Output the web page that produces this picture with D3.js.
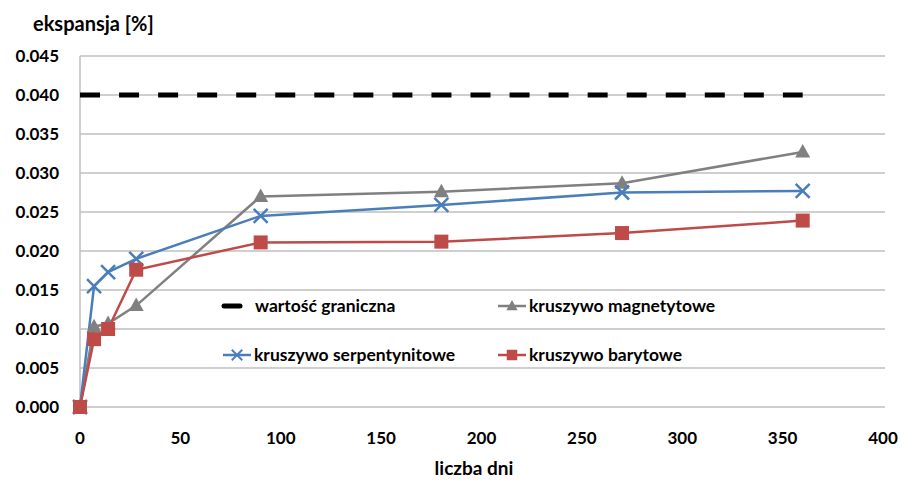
<!DOCTYPE html>
<html>
<head>
<meta charset="utf-8">
<script src="https://cdn.jsdelivr.net/npm/d3@7"></script>
<style>
  body { margin: 0; background: #fff; }
  text { font-family: Lato, "Open Sans", sans-serif; font-weight: bold; fill: #000; }
</style>
</head>
<body>
<script>
// data
var days = [0, 7, 14, 28, 90, 180, 270, 360];
var magnetytowe = [0, 0.0103, 0.0107, 0.0130, 0.0270, 0.0276, 0.0287, 0.0327];
var serpentynitowe = [0, 0.0155, 0.0173, 0.0190, 0.0245, 0.0259, 0.0275, 0.0277];
var barytowe = [0, 0.0087, 0.0100, 0.0176, 0.0211, 0.0212, 0.0223, 0.0239];
var limitDays = [0, 360];
var limitValue = 0.040;
var xTicks = [0, 50, 100, 150, 200, 250, 300, 350, 400];
var yTicks = [0, 0.005, 0.010, 0.015, 0.020, 0.025, 0.030, 0.035, 0.040, 0.045];

var W = 904, H = 481;
var margin = {top: 56, right: 21, bottom: 74, left: 80};

var svg = d3.select('body').append('svg')
  .attr('width', W)
  .attr('height', H);

var x = d3.scaleLinear().domain([0, 400]).range([margin.left, 883]);
var y = d3.scaleLinear().domain([0, 0.045]).range([407, margin.top]);

// gridlines
svg.append('g').selectAll('line')
  .data(yTicks)
  .enter().append('line')
    .attr('x1', margin.left).attr('x2', 885)
    .attr('y1', d => y(d)).attr('y2', d => y(d))
    .attr('stroke', '#bfbfbf')
    .attr('stroke-width', 1.5);

// left axis line
svg.append('line')
  .attr('x1', x(0)).attr('x2', x(0))
  .attr('y1', y(0.045)).attr('y2', y(0))
  .attr('stroke', '#bfbfbf')
  .attr('stroke-width', 1.5);

// tick labels
svg.append('g').selectAll('text')
  .data(yTicks)
  .enter().append('text')
    .attr('x', 59)
    .attr('y', d => y(d))
    .attr('dy', '0.35em')
    .attr('text-anchor', 'end')
    .style('font-size', '17px')
    .text(d => d3.format('.3f')(d));

svg.append('g').selectAll('text')
  .data(xTicks)
  .enter().append('text')
    .attr('x', d => x(d))
    .attr('y', 438)
    .attr('dy', '0.35em')
    .attr('text-anchor', 'middle')
    .style('font-size', '17px')
    .text(d => d);

// axis titles
svg.append('text')
  .attr('x', 33).attr('y', 31)
  .style('font-size', '20px')
  .text('ekspansja [%]');

svg.append('text')
  .attr('x', 474).attr('y', 475)
  .attr('text-anchor', 'middle')
  .style('font-size', '19px')
  .text('liczba dni');

// limit line
svg.append('line')
  .attr('x1', x(limitDays[0])).attr('x2', x(limitDays[1]))
  .attr('y1', y(limitValue)).attr('y2', y(limitValue))
  .attr('stroke', '#000')
  .attr('stroke-width', 5)
  .attr('stroke-dasharray', '20,19.05');

var line = d3.line()
  .x((d, i) => x(days[i]))
  .y(d => y(d));

var series = [
  {name: 'kruszywo magnetytowe', values: magnetytowe, color: '#808080', marker: 'tri'},
  {name: 'kruszywo serpentynitowe', values: serpentynitowe, color: '#4a7ebb', marker: 'x'},
  {name: 'kruszywo barytowe', values: barytowe, color: '#be4b48', marker: 'sq'}
];

function drawMarker(g, type, color) {
  if (type === 'tri') {
    g.append('path').attr('d', 'M0,-8L7.5,5.5L-7.5,5.5Z').attr('fill', color);
  } else if (type === 'sq') {
    g.append('rect').attr('x', -7).attr('y', -7).attr('width', 14).attr('height', 14).attr('fill', color);
  } else {
    g.append('path').attr('d', 'M-7,-7L7,7M-7,7L7,-7')
      .attr('stroke', color).attr('stroke-width', 2.5).attr('fill', 'none');
  }
}

series.forEach(function(s) {
  svg.append('path')
    .datum(s.values)
    .attr('d', line)
    .attr('fill', 'none')
    .attr('stroke', s.color)
    .attr('stroke-width', 2.5);
});

series.forEach(function(s) {
  svg.append('g').selectAll('g')
    .data(s.values)
    .enter().append('g')
      .attr('transform', (d, i) => 'translate(' + x(days[i]) + ',' + y(d) + ')')
      .each(function() { drawMarker(d3.select(this), s.marker, s.color); });
});

// legend
var legend = [
  {name: 'wartość graniczna', type: 'limit', x: 223, y: 306},
  {name: 'kruszywo magnetytowe', type: 'tri', color: '#808080', x: 498, y: 306},
  {name: 'kruszywo serpentynitowe', type: 'x', color: '#4a7ebb', x: 223, y: 355},
  {name: 'kruszywo barytowe', type: 'sq', color: '#be4b48', x: 498, y: 355}
];

legend.forEach(function(l) {
  var g = svg.append('g').attr('transform', 'translate(' + l.x + ',' + l.y + ')');
  if (l.type === 'limit') {
    g.append('line').attr('x1', 1).attr('x2', 17).attr('y1', 0).attr('y2', 0)
      .attr('stroke', '#000').attr('stroke-width', 5).attr('stroke-linecap', 'round');
    g.append('text').attr('x', 32).attr('dy', '0.35em').style('font-size', '17.5px').text(l.name);
  } else {
    g.append('line').attr('x1', 0).attr('x2', 28).attr('y1', 0).attr('y2', 0)
      .attr('stroke', l.color).attr('stroke-width', 2.5);
    var m = g.append('g').attr('transform', 'translate(14,0) scale(0.75)');
    drawMarker(m, l.type, l.color);
    g.append('text').attr('x', 31).attr('dy', '0.35em').style('font-size', '17.5px').text(l.name);
  }
});
</script>
</body>
</html>
